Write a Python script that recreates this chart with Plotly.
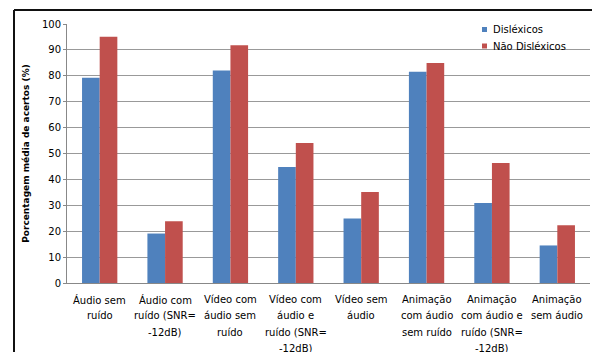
import plotly.graph_objects as go

categories = [
    "Áudio sem<br>ruído",
    "Áudio com<br>ruído (SNR=<br>-12dB)",
    "Vídeo com<br>áudio sem<br>ruído",
    "Vídeo com<br>áudio e<br>ruído (SNR=<br>-12dB)",
    "Vídeo sem<br>áudio",
    "Animação<br>com áudio<br>sem ruído",
    "Animação<br>com áudio e<br>ruído (SNR=<br>-12dB)",
    "Animação<br>sem áudio",
]
series_names = ["Disléxicos", "Não Disléxicos"]
dislexicos = [79.2, 19.1, 82.0, 44.8, 24.9, 81.6, 30.9, 14.5]
nao_dislexicos = [95.1, 23.8, 91.8, 54.1, 35.1, 84.9, 46.3, 22.3]
y_ticks = list(range(0, 101, 10))

FONT = "DejaVu Sans"
COLORS = ["#4F81BD", "#C0504D"]
W, H = 592, 352
L, R, T, B = 67, 2, 24, 69
pw, ph = W - L - R, H - T - B


def px_x(x):
    return (x - L) / pw


def px_y(y):
    return 1 - (y - T) / ph


fig = go.Figure()
for name, vals, col in zip(series_names, [dislexicos, nao_dislexicos], COLORS):
    fig.add_trace(go.Bar(x=categories, y=vals, name=name,
                         marker=dict(color=col, line=dict(width=0))))

# multi-line category labels as annotations (tighter control of line spacing)
for cat in categories:
    for i, line in enumerate(cat.split("<br>")):
        fig.add_annotation(x=cat, xref="x", y=0, yref="paper", text=line,
                           showarrow=False, yanchor="middle", xanchor="center",
                           yshift=-(16.5 + 16.3 * i),
                           font=dict(family=FONT, size=10, color="#000000"))

# custom legend (small squares + text)
for i, (name, col) in enumerate(zip(series_names, COLORS)):
    cy = 29.5 + 16.5 * i
    fig.add_shape(type="rect", xref="paper", yref="paper",
                  x0=px_x(482), x1=px_x(487), y0=px_y(cy + 2.5), y1=px_y(cy - 2.5),
                  fillcolor=col, line=dict(width=0))
    fig.add_annotation(x=px_x(491), xref="paper", y=px_y(cy), yref="paper",
                       text=name, showarrow=False, xanchor="left", yanchor="middle",
                       font=dict(family=FONT, size=10, color="#000000"))

# outer frame (top and left edges)
fig.add_shape(type="line", xref="paper", yref="paper",
              x0=px_x(14), x1=px_x(W + 5), y0=px_y(10), y1=px_y(10),
              line=dict(color="#111111", width=2))
fig.add_shape(type="line", xref="paper", yref="paper",
              x0=px_x(14), x1=px_x(14), y0=px_y(10), y1=px_y(H + 5),
              line=dict(color="#111111", width=2))

fig.update_layout(
    width=W, height=H,
    margin=dict(l=L, r=R, t=T, b=B),
    paper_bgcolor="white", plot_bgcolor="white",
    barmode="group", bargap=0.46, bargroupgap=0.0,
    font=dict(family=FONT, size=10, color="#000000"),
    showlegend=False,
    xaxis=dict(showticklabels=False, showline=True, linecolor="#888888", linewidth=1,
               ticks="", showgrid=False),
    yaxis=dict(range=[0, 100], tickvals=y_ticks, showgrid=True, gridcolor="#999999",
               gridwidth=1, showline=True, linecolor="#888888", linewidth=1,
               ticks="outside", ticklen=3, tickcolor="#888888",
               tickfont=dict(family=FONT, size=10),
               title=dict(text="<b>Porcentagem média de acertos (%)</b>",
                          font=dict(family=FONT, size=9), standoff=10),
               zeroline=False),
)

fig.write_html("out.html")
